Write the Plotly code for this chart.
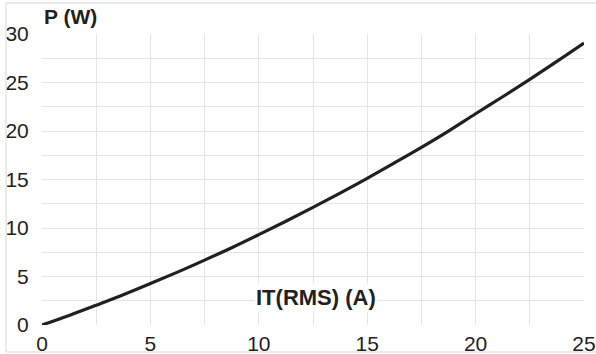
import plotly.graph_objects as go

current_a = [0, 1.25, 2.5, 3.75, 5, 6.25, 7.5, 8.75, 10, 11.25, 12.5,
             13.75, 15, 16.25, 17.5, 18.75, 20, 21.25, 22.5, 23.75, 25]
power_w = [0, 0.99, 2.04, 3.12, 4.27, 5.45, 6.69, 7.97, 9.32, 10.7, 12.13,
           13.6, 15.12, 16.7, 18.31, 19.99, 21.78, 23.53, 25.33, 27.17, 29.06]
x_ticks = [0, 5, 10, 15, 20, 25]
y_ticks = [0, 5, 10, 15, 20, 25, 30]

ink = "#231f20"
grid = "#e4e4e4"
font_family = "Liberation Sans, Arial, sans-serif"

fig = go.Figure()
fig.add_trace(go.Scatter(x=current_a, y=power_w, mode="lines",
                         line=dict(color=ink, width=3.2, shape="spline", smoothing=1.0),
                         hoverinfo="skip", cliponaxis=False))

fig.update_layout(
    width=596, height=354,
    margin=dict(l=42, r=12, t=34, b=29, autoexpand=False),
    paper_bgcolor="white", plot_bgcolor="white",
    showlegend=False,
    font=dict(family=font_family, color=ink, size=21),
    xaxis=dict(range=[0, 25], tickvals=x_ticks, showgrid=True, gridcolor=grid, gridwidth=1,
               minor=dict(dtick=2.5, showgrid=True, gridcolor=grid, gridwidth=1),
               zeroline=False, showline=False, ticks="", ticklen=0,
               automargin=False, ticklabelstandoff=4,
               tickfont=dict(size=21, family=font_family, color=ink)),
    yaxis=dict(range=[0, 30], tickvals=y_ticks, showgrid=True, gridcolor=grid, gridwidth=1,
               minor=dict(dtick=2.5, showgrid=True, gridcolor=grid, gridwidth=1),
               zeroline=False, showline=False, ticks="outside", ticklen=8, tickcolor="white",
               automargin=False,
               tickfont=dict(size=21, family=font_family, color=ink)),
    annotations=[
        dict(text="<b>P (W)</b>", xref="paper", yref="paper", x=0, y=1.0 + 17.0 / 291,
             xanchor="left", yanchor="middle", showarrow=False,
             font=dict(size=21, family=font_family, color=ink)),
        dict(text="<b>IT(RMS) (A)</b>", xref="x", yref="y", x=12.64, y=2.8,
             xanchor="center", yanchor="middle", showarrow=False, bgcolor="white",
             font=dict(size=22, family=font_family, color=ink)),
    ],
    shapes=[
        dict(type="line", xref="paper", yref="paper", x0=-36 / 542, x1=-36 / 542,
             y0=-27 / 291, y1=322 / 291, line=dict(color="#d6d6d6", width=1)),
        dict(type="line", xref="paper", yref="paper", x0=-36 / 542, x1=554 / 542,
             y0=322 / 291, y1=322 / 291, line=dict(color="#d6d6d6", width=1)),
        dict(type="line", xref="paper", yref="paper", x0=-36 / 542, x1=554 / 542,
             y0=-27 / 291, y1=-27 / 291, line=dict(color="#d6d6d6", width=1)),
    ],
)

fig.write_html("out.html")
